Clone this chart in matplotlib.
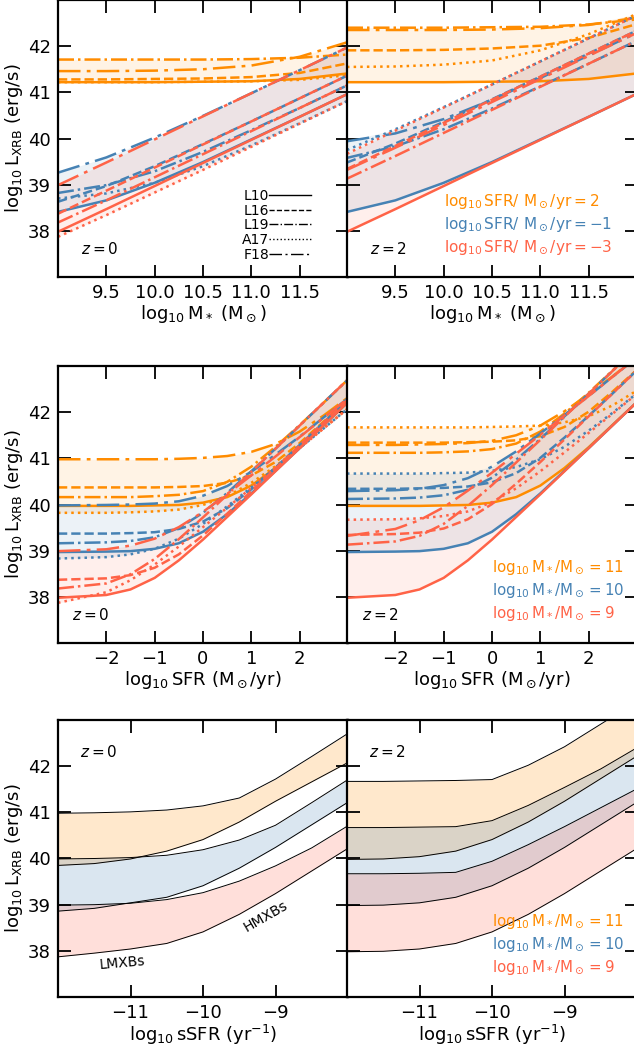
import matplotlib
matplotlib.use("Agg")
import matplotlib.pyplot as plt
from matplotlib.lines import Line2D
import numpy as np

# ---------------- data ----------------
models = ['L10', 'L16', 'L19', 'A17', 'F18']

mstar_grid = [9.0, 9.5, 10.0, 10.5, 11.0, 11.5, 12.0]
sfr_grid = [-3, -2, -1.5, -1, -0.5, 0, 0.5, 1, 1.5, 2, 2.5, 3]
ssfr_grid = [-12, -11.5, -11, -10.5, -10, -9.5, -9, -8.5, -8]

# Row 1, z=0 : log L vs log M*, for log SFR = 2, -1, -3
m_z0_sfr2 = {'L10': [41.22, 41.22, 41.22, 41.23, 41.24, 41.29, 41.41],
             'L16': [41.28, 41.28, 41.29, 41.30, 41.33, 41.42, 41.63],
             'L19': [41.71, 41.71, 41.71, 41.71, 41.72, 41.75, 41.82],
             'A17': [41.22, 41.22, 41.22, 41.23, 41.24, 41.27, 41.37],
             'F18': [41.46, 41.46, 41.47, 41.50, 41.58, 41.77, 42.09]}
m_z0_sfrm1 = {'L10': [38.41, 38.66, 39.04, 39.49, 39.98, 40.47, 40.97],
              'L16': [38.63, 38.97, 39.40, 39.88, 40.37, 40.87, 41.37],
              'L19': [38.82, 38.99, 39.29, 39.71, 40.18, 40.66, 41.16],
              'A17': [38.70, 38.81, 39.04, 39.40, 39.85, 40.33, 40.82],
              'F18': [39.26, 39.59, 40.02, 40.49, 40.98, 41.48, 41.98]}
m_z0_sfrm3 = {'L10': [37.98, 38.47, 38.97, 39.47, 39.97, 40.47, 40.97],
              'L16': [38.37, 38.87, 39.37, 39.87, 40.37, 40.87, 41.37],
              'L19': [38.18, 38.66, 39.16, 39.66, 40.16, 40.66, 41.16],
              'A17': [37.87, 38.34, 38.83, 39.32, 39.82, 40.32, 40.82],
              'F18': [38.99, 39.48, 39.98, 40.48, 40.98, 41.48, 41.98]}

# Row 1, z=2
m_z2_sfr2 = {'L10': [41.22, 41.22, 41.22, 41.23, 41.24, 41.29, 41.41],
             'L16': [41.91, 41.91, 41.92, 41.95, 42.01, 42.18, 42.48],
             'L19': [42.40, 42.40, 42.40, 42.41, 42.42, 42.47, 42.58],
             'A17': [41.55, 41.56, 41.60, 41.69, 41.91, 42.26, 42.70],
             'F18': [42.35, 42.35, 42.35, 42.36, 42.39, 42.46, 42.62]}
m_z2_sfrm1 = {'L10': [38.41, 38.66, 39.04, 39.49, 39.98, 40.47, 40.97],
              'L16': [39.48, 39.89, 40.36, 40.85, 41.34, 41.84, 42.34],
              'L19': [39.58, 39.83, 40.20, 40.65, 41.13, 41.62, 42.12],
              'A17': [39.75, 40.20, 40.68, 41.17, 41.67, 42.17, 42.67],
              'F18': [39.94, 40.11, 40.42, 40.84, 41.31, 41.80, 42.29]}
m_z2_sfrm3 = {'L10': [37.98, 38.47, 38.97, 39.47, 39.97, 40.47, 40.97],
              'L16': [39.34, 39.84, 40.34, 40.84, 41.34, 41.84, 42.34],
              'L19': [39.13, 39.62, 40.12, 40.62, 41.12, 41.62, 42.12],
              'A17': [39.67, 40.17, 40.67, 41.17, 41.67, 42.17, 42.67],
              'F18': [39.32, 39.80, 40.29, 40.79, 41.29, 41.79, 42.29]}

# Row 2, z=0 : log L vs log SFR, for log M* = 11, 10, 9
s_z0_m11 = {'L10': [39.97, 39.97, 39.97, 39.98, 39.99, 40.04, 40.16, 40.41, 40.79, 41.24, 41.73, 42.22],
            'L16': [40.37, 40.37, 40.37, 40.37, 40.38, 40.40, 40.47, 40.63, 40.92, 41.33, 41.80, 42.29],
            'L19': [40.16, 40.16, 40.16, 40.18, 40.21, 40.29, 40.49, 40.82, 41.25, 41.72, 42.21, 42.71],
            'A17': [39.82, 39.82, 39.83, 39.85, 39.89, 39.99, 40.18, 40.47, 40.83, 41.24, 41.66, 42.08],
            'F18': [40.98, 40.98, 40.98, 40.98, 40.99, 41.01, 41.05, 41.14, 41.31, 41.58, 41.93, 42.32]}
s_z0_m10 = {'L10': [38.97, 38.98, 38.99, 39.04, 39.16, 39.41, 39.79, 40.24, 40.73, 41.22, 41.72, 42.22],
            'L16': [39.37, 39.37, 39.38, 39.40, 39.47, 39.63, 39.92, 40.33, 40.80, 41.29, 41.78, 42.28],
            'L19': [39.16, 39.18, 39.21, 39.29, 39.49, 39.82, 40.25, 40.72, 41.21, 41.71, 42.21, 42.71],
            'A17': [38.83, 38.86, 38.92, 39.04, 39.26, 39.58, 39.96, 40.37, 40.79, 41.22, 41.65, 42.08],
            'F18': [39.98, 39.99, 40.00, 40.02, 40.07, 40.19, 40.40, 40.71, 41.08, 41.47, 41.89, 42.30]}
s_z0_m9 = {'L10': [37.98, 38.04, 38.16, 38.41, 38.79, 39.24, 39.73, 40.22, 40.72, 41.22, 41.72, 42.22],
           'L16': [38.37, 38.40, 38.47, 38.63, 38.92, 39.33, 39.80, 40.29, 40.78, 41.28, 41.78, 42.28],
           'L19': [38.18, 38.29, 38.49, 38.82, 39.25, 39.72, 40.21, 40.71, 41.21, 41.71, 42.21, 42.71],
           'A17': [37.87, 38.10, 38.36, 38.70, 39.09, 39.51, 39.93, 40.36, 40.79, 41.22, 41.65, 42.08],
           'F18': [38.99, 39.03, 39.11, 39.26, 39.51, 39.84, 40.23, 40.63, 41.04, 41.46, 41.88, 42.30]}

# Row 2, z=2
s_z2_m11 = {'L10': [39.97, 39.97, 39.97, 39.98, 39.99, 40.04, 40.16, 40.41, 40.79, 41.24, 41.73, 42.22],
            'L16': [41.34, 41.34, 41.34, 41.34, 41.35, 41.36, 41.39, 41.48, 41.68, 42.01, 42.45, 42.92],
            'L19': [41.12, 41.12, 41.12, 41.13, 41.15, 41.20, 41.32, 41.58, 41.97, 42.42, 42.91, 43.40],
            'A17': [41.67, 41.67, 41.67, 41.67, 41.67, 41.68, 41.69, 41.71, 41.78, 41.91, 42.15, 42.47],
            'F18': [41.29, 41.29, 41.30, 41.31, 41.33, 41.38, 41.50, 41.71, 42.02, 42.39, 42.78, 43.20]}
s_z2_m10 = {'L10': [38.97, 38.98, 38.99, 39.04, 39.16, 39.41, 39.79, 40.24, 40.73, 41.22, 41.72, 42.22],
            'L16': [40.34, 40.34, 40.35, 40.36, 40.39, 40.48, 40.68, 41.01, 41.45, 41.92, 42.41, 42.91],
            'L19': [40.12, 40.13, 40.15, 40.20, 40.32, 40.58, 40.97, 41.42, 41.91, 42.40, 42.90, 43.40],
            'A17': [40.67, 40.67, 40.67, 40.68, 40.69, 40.73, 40.81, 40.98, 41.25, 41.60, 41.99, 42.41],
            'F18': [40.29, 40.31, 40.34, 40.42, 40.57, 40.82, 41.15, 41.54, 41.94, 42.35, 42.77, 43.19]}
s_z2_m9 = {'L10': [37.98, 38.04, 38.16, 38.41, 38.79, 39.24, 39.73, 40.22, 40.72, 41.22, 41.72, 42.22],
           'L16': [39.34, 39.36, 39.39, 39.48, 39.68, 40.01, 40.45, 40.92, 41.41, 41.91, 42.41, 42.91],
           'L19': [39.13, 39.20, 39.32, 39.58, 39.97, 40.42, 40.91, 41.40, 41.90, 42.40, 42.90, 43.40],
           'A17': [39.67, 39.68, 39.70, 39.75, 39.85, 40.05, 40.35, 40.72, 41.13, 41.55, 41.97, 42.40],
           'F18': [39.32, 39.47, 39.66, 39.94, 40.30, 40.69, 41.10, 41.51, 41.93, 42.35, 42.77, 43.19]}

# Row 3 : bands (lower, upper) vs log sSFR
b_z0_m11_lo = [39.85, 39.89, 39.99, 40.16, 40.41, 40.79, 41.24, 41.66, 42.08]
b_z0_m11_hi = [40.98, 40.99, 41.01, 41.05, 41.14, 41.31, 41.72, 42.21, 42.71]
b_z0_m10_lo = [38.86, 38.92, 39.04, 39.16, 39.41, 39.79, 40.24, 40.73, 41.22]
b_z0_m10_hi = [39.99, 40.00, 40.02, 40.07, 40.19, 40.40, 40.72, 41.21, 41.71]
b_z0_m9_lo = [37.87, 37.95, 38.04, 38.16, 38.41, 38.79, 39.24, 39.73, 40.22]
b_z0_m9_hi = [38.99, 39.00, 39.03, 39.11, 39.26, 39.51, 39.84, 40.23, 40.71]

b_z2_m11_lo = [39.98, 39.99, 40.04, 40.16, 40.41, 40.79, 41.24, 41.73, 42.22]
b_z2_m11_hi = [41.67, 41.67, 41.68, 41.69, 41.71, 42.02, 42.42, 42.91, 43.40]
b_z2_m10_lo = [38.98, 38.99, 39.04, 39.16, 39.41, 39.79, 40.24, 40.73, 41.22]
b_z2_m10_hi = [40.67, 40.67, 40.68, 40.69, 40.82, 41.15, 41.54, 41.94, 42.40]
b_z2_m9_lo = [37.98, 37.99, 38.04, 38.16, 38.41, 38.79, 39.24, 39.73, 40.22]
b_z2_m9_hi = [39.67, 39.67, 39.68, 39.70, 39.94, 40.30, 40.69, 41.10, 41.51]

sfr_labels = ['2', '-1', '-3']
mass_labels = ['11', '10', '9']

# ---------------- style ----------------
C_OR = '#FF8C00'
C_BL = '#4682B4'
C_RD = '#FF6347'
colors = [C_OR, C_BL, C_RD]
lstyles = {'L10': '-', 'L16': '--', 'L19': '-.', 'A17': ':',
           'F18': (0, (9, 2.5, 1.5, 2.5))}

plt.rcParams['font.family'] = 'DejaVu Sans'
plt.rcParams['mathtext.fontset'] = 'dejavusans'

W, H = 634, 1048
fig = plt.figure(figsize=(W / 100, H / 100), dpi=100)

xl = 58 / W
xr = 347 / W
aw = 290 / W
ah = 277 / H
rows_y = [(H - 277) / H, (H - 643) / H, (H - 997) / H]

axes = []
for r in range(3):
    axl = fig.add_axes([xl, rows_y[r], aw, ah])
    axr = fig.add_axes([xr, rows_y[r], aw, ah], sharey=axl)
    axes.append((axl, axr))

ylab = r'$\mathrm{log_{10}\,L_{XRB}\ (erg/s)}$'
FS = 13

def style_axis(ax, left):
    ax.set_ylim(37, 43)
    ax.set_yticks([38, 39, 40, 41, 42])
    ax.tick_params(direction='in', top=True, right=True, length=9, width=1.3,
                   labelsize=FS, pad=5)
    for sp in ax.spines.values():
        sp.set_linewidth(1.6)
    if left:
        ax.set_ylabel(ylab, fontsize=FS, labelpad=2)
    else:
        ax.tick_params(labelleft=False)


def draw_lines(ax, x, sets):
    for vals, c in zip(sets, colors):
        arr = np.array([vals[m] for m in models])
        ax.fill_between(x, arr.min(axis=0), arr.max(axis=0), color=c, alpha=0.1, lw=0)
    for vals, c in zip(sets, colors):
        for m in models:
            ax.plot(x, vals[m], color=c, ls=lstyles[m], lw=1.8)

# Row 1
draw_lines(axes[0][0], mstar_grid, [m_z0_sfr2, m_z0_sfrm1, m_z0_sfrm3])
draw_lines(axes[0][1], mstar_grid, [m_z2_sfr2, m_z2_sfrm1, m_z2_sfrm3])
for i, ax in enumerate(axes[0]):
    style_axis(ax, i == 0)
    ax.set_xlim(9, 12)
    ax.set_xticks([9.5, 10.0, 10.5, 11.0, 11.5])
    ax.set_xticklabels(['9.5', '10.0', '10.5', '11.0', '11.5'])
    ax.set_xlabel(r'$\mathrm{log_{10}\,M_*\ (M_\odot)}$', fontsize=FS, labelpad=1)

# Row 2
draw_lines(axes[1][0], sfr_grid, [s_z0_m11, s_z0_m10, s_z0_m9])
draw_lines(axes[1][1], sfr_grid, [s_z2_m11, s_z2_m10, s_z2_m9])
for i, ax in enumerate(axes[1]):
    style_axis(ax, i == 0)
    ax.set_xlim(-3, 3)
    ax.set_xticks([-2, -1, 0, 1, 2])
    ax.set_xlabel(r'$\mathrm{log_{10}\,SFR\ (M_\odot/yr)}$', fontsize=FS, labelpad=1)

# Row 3
bands = [
    [(b_z0_m11_lo, b_z0_m11_hi), (b_z0_m10_lo, b_z0_m10_hi), (b_z0_m9_lo, b_z0_m9_hi)],
    [(b_z2_m11_lo, b_z2_m11_hi), (b_z2_m10_lo, b_z2_m10_hi), (b_z2_m9_lo, b_z2_m9_hi)],
]
for i, ax in enumerate(axes[2]):
    for (lo, hi), c in zip(bands[i], colors):
        ax.fill_between(ssfr_grid, lo, hi, color=c, alpha=0.2, lw=0)
        ax.plot(ssfr_grid, lo, color='k', lw=0.7)
        ax.plot(ssfr_grid, hi, color='k', lw=0.7)
    style_axis(ax, i == 0)
    ax.set_xlim(-12, -8)
    ax.set_xticks([-11, -10, -9])
    ax.set_xlabel(r'$\mathrm{log_{10}\,sSFR\ (yr^{-1})}$', fontsize=FS, labelpad=1)

# redshift labels
for r in range(2):
    for i, z in enumerate(['0', '2']):
        xx = 0.08 if r == 0 else 0.05
        axes[r][i].text(xx, 0.10, r'$z = %s$' % z, transform=axes[r][i].transAxes,
                        fontsize=11, ha='left', va='center')
for i, z in enumerate(['0', '2']):
    axes[2][i].text(0.075, 0.885, r'$z = %s$' % z, transform=axes[2][i].transAxes,
                    fontsize=11, ha='left', va='center')

# model legend (row 1 left)
handles = [Line2D([], [], color='k', lw=1, ls=lstyles[m]) for m in models]
axes[0][0].legend(handles, models, loc='lower right', bbox_to_anchor=(0.905, 0.02),
                  frameon=False, markerfirst=False, handlelength=3.0,
                  handletextpad=0.0, labelspacing=0.05, fontsize=10,
                  borderpad=0.2)

# colored labels
for k, (lab, c) in enumerate(zip(sfr_labels, colors)):
    axes[0][1].text(0.335, 0.272 - k * 0.084,
                    r'$\mathrm{log_{10}\,SFR/\ M_\odot/yr} = %s$' % lab,
                    color=c, fontsize=11, transform=axes[0][1].transAxes,
                    ha='left', va='center')
for r in (1, 2):
    for k, (lab, c) in enumerate(zip(mass_labels, colors)):
        axes[r][1].text(0.50, 0.272 - k * 0.083,
                        r'$\mathrm{log_{10}\,M_*/M_\odot} = %s$' % lab,
                        color=c, fontsize=10.8, transform=axes[r][1].transAxes,
                        ha='left', va='center')

# band annotations
axes[2][0].text(-11.12, 37.74, 'LMXBs', fontsize=10, rotation=5,
                ha='center', va='center')
axes[2][0].text(-9.14, 38.74, 'HMXBs', fontsize=10, rotation=30,
                ha='center', va='center')

fig.savefig('out.png', dpi=100)
